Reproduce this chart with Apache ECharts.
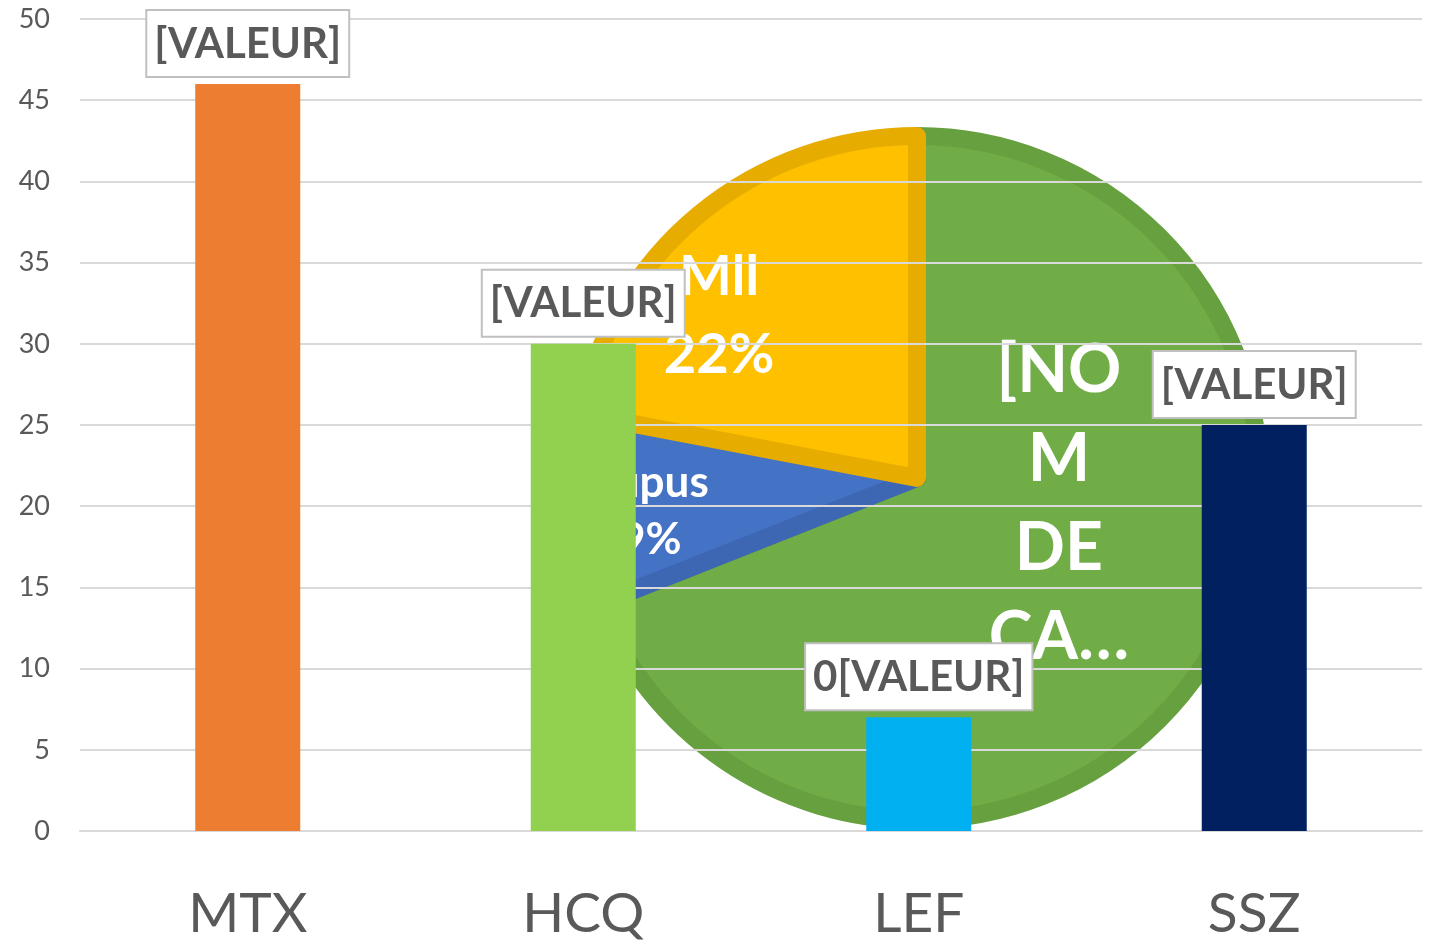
<!DOCTYPE html>
<html><head><meta charset="utf-8">
<script src="https://cdn.jsdelivr.net/npm/echarts@6/dist/echarts.min.js"></script>
<style>html,body{margin:0;padding:0;background:#fff}#c{width:1432px;height:942px}</style>
</head><body><div id="c"></div>
<script>
// ---- data ----
const categories = ['MTX', 'HCQ', 'LEF', 'SSZ'];
const barValues = [46, 30, 7, 25];
const barLabels = ['[VALEUR]', '[VALEUR]', '0[VALEUR]', '[VALEUR]'];
const barColors = ['#ED7D31', '#92D050', '#00B0F0', '#002060'];
const yMin = 0, yMax = 50, yStep = 5;
const pieNames = ['[NOM DE CATÉGORIE]', 'Lupus', 'Mll'];
const pieShares = [69, 9, 22];
const pieLabels = ['[NO\nM\nDE\nCA…', 'Lupus\n9%', 'Mll\n22%'];
const pieColors = ['#70AD47', '#4472C4', '#FFC000'];
const pieEdgeColors = ['#66A03F', '#3D67B3', '#E6AD00'];

// ---- per-slice label styling ----
const pieLabelStyle = [
  { fontSize: 66, lineHeight: 89, offset: [-2, -72] },
  { fontSize: 44, lineHeight: 57, offset: [-93, 17] },
  { fontSize: 56, lineHeight: 78, offset: [-87, -28] }
];

const chart = echarts.init(document.getElementById('c'), null, { renderer: 'canvas' });
const FONT = 'Lato, "Open Sans", sans-serif';

chart.setOption({
  animation: false,
  backgroundColor: '#ffffff',
  grid: { left: 80, right: 10, top: 19, bottom: 110, containLabel: false },
  xAxis: {
    type: 'category',
    data: categories,
    z: 1,
    axisLine: { show: true, lineStyle: { color: '#d9d9d9', width: 2 } },
    axisTick: { show: false },
    axisLabel: { color: '#595959', fontSize: 55, fontFamily: FONT, margin: 56 }
  },
  yAxis: {
    type: 'value',
    min: yMin, max: yMax, interval: yStep,
    z: 1,
    axisLine: { show: false },
    axisTick: { show: false },
    splitLine: { lineStyle: { color: '#d9d9d9', width: 2 } },
    axisLabel: { color: '#595959', fontSize: 27, fontFamily: FONT, margin: 30 }
  },
  series: [
    {
      type: 'pie',
      z: 0,
      center: [917, 478],
      radius: 342,
      startAngle: 90,
      clockwise: true,
      silent: true,
      data: pieNames.map((n, i) => ({
        name: n,
        value: pieShares[i],
        itemStyle: { color: pieColors[i], borderColor: pieEdgeColors[i], borderWidth: 18, borderJoin: 'round' },
        label: Object.assign({}, pieLabelStyle[i])
      })),
      label: {
        show: true,
        position: 'inside',
        color: '#ffffff',
        fontWeight: 'bold',
        fontFamily: FONT,
        align: 'center',
        formatter: p => pieLabels[p.dataIndex]
      },
      labelLine: { show: false }
    },
    {
      type: 'bar',
      z: 2,
      barWidth: 105,
      data: barValues.map((v, i) => ({ value: v, itemStyle: { color: barColors[i] } })),
      label: {
        show: true,
        position: 'top',
        distance: 8,
        formatter: p => barLabels[p.dataIndex],
        color: '#595959',
        fontWeight: 'bold',
        fontSize: 42,
        fontFamily: FONT,
        backgroundColor: '#ffffff',
        borderColor: '#c0c0c0',
        borderWidth: 2,
        padding: [12, 7, 11, 7]
      }
    }
  ]
});
</script>
</body></html>
